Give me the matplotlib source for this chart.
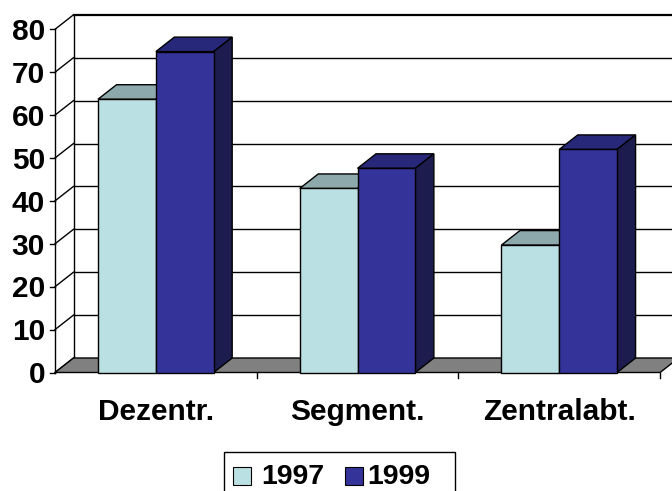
import matplotlib
matplotlib.use("Agg")
import matplotlib.pyplot as plt
from matplotlib.patches import Polygon, Rectangle

categories = ["Dezentr.", "Segment.", "Zentralabt."]
series_names = ["1997", "1999"]
values_1997 = [63.7, 42.9, 29.7]
values_1999 = [74.8, 47.6, 52.0]
yticks = [0, 10, 20, 30, 40, 50, 60, 70, 80]

front_cols = ["#BBE0E3", "#333399"]
top_cols = ["#8DA9AB", "#28287A"]
side_cols = ["#7E9799", "#1C1C4E"]

W, H = 672, 491
fig = plt.figure(figsize=(W / 100, H / 100), dpi=100)
ax = fig.add_axes([0, 0, 1, 1])

# pixel mapping for the axis frame (category units / value units)
X0PX, CATPX = 55.0, 201.7
Y0PX, VPX = 372.5, 4.29
ax.set_xlim(-X0PX / CATPX, (W - X0PX) / CATPX)
ax.set_ylim((Y0PX - H) / VPX, Y0PX / VPX)
ax.axis("off")

DX = 18.5 / CATPX
DY = 14.5 / VPX
ncat = len(categories)
ymax = yticks[-1]
xr = (W - X0PX) / CATPX + 0.1
lw = 1.0

# back wall gridlines
for v in yticks[1:]:
    ax.plot([DX, xr], [v + DY, v + DY], color="black", lw=lw if v < ymax else 1.6, zorder=1)
ax.plot([DX, DX], [DY, ymax + DY], color="black", lw=lw, zorder=1)
# left wall diagonals
for v in yticks:
    ax.plot([0, DX], [v, v + DY], color="black", lw=lw, zorder=1)
# front axis and ticks
ax.plot([0, 0], [0, ymax], color="black", lw=lw, zorder=1)
tick_len = 5.0 / CATPX
for v in yticks:
    ax.plot([-tick_len, 0], [v, v], color="black", lw=lw, zorder=1)
    ax.text(-10.0 / CATPX, v - 10.7 / VPX, str(v), ha="right", va="baseline",
            fontsize=21.5, fontweight="bold", family="Liberation Sans")

# floor
floor = Polygon([(0, 0), (ncat, 0), (ncat + DX, DY), (DX, DY)], closed=True,
                facecolor="#808080", edgecolor="black", lw=lw, zorder=2)
ax.add_patch(floor)
for i in range(1, ncat + 1):
    ax.plot([i, i], [0, -5.0 / VPX], color="black", lw=lw, zorder=2)

# bars
bw = 0.2867
def draw_bar(x0, x1, v, k, z):
    front = Polygon([(x0, 0), (x1, 0), (x1, v), (x0, v)], closed=True,
                    facecolor=front_cols[k], edgecolor="black", lw=lw, zorder=z + 0.2)
    top = Polygon([(x0, v), (x1, v), (x1 + DX, v + DY), (x0 + DX, v + DY)], closed=True,
                  facecolor=top_cols[k], edgecolor="black", lw=lw, zorder=z)
    side = Polygon([(x1, 0), (x1 + DX, DY), (x1 + DX, v + DY), (x1, v)], closed=True,
                   facecolor=side_cols[k], edgecolor="black", lw=lw, zorder=z)
    for p in (top, side, front):
        ax.add_patch(p)

for i in range(ncat):
    c = i + 0.5
    draw_bar(c - bw, c, values_1997[i], 0, 3)
    draw_bar(c, c + bw, values_1999[i], 1, 4)
    ax.text(c, -(420 - Y0PX) / VPX, categories[i], ha="center", va="baseline",
            fontsize=21.5, fontweight="bold", family="Liberation Sans")

# legend (manual, Excel style)
def fx(px):
    return px / W
def fy(py):
    return 1 - py / H
fig.patches.append(Rectangle((fx(224), fy(496)), fx(455) - fx(224), fy(452) - fy(496),
                             transform=fig.transFigure, facecolor="white",
                             edgecolor="black", lw=1.0, figure=fig))
sq = [(233, 251), (345, 363)]
tx = [261, 367]
for k in range(2):
    fig.patches.append(Rectangle((fx(sq[k][0]), fy(485)), fx(sq[k][1]) - fx(sq[k][0]),
                                 fy(467) - fy(485), transform=fig.transFigure,
                                 facecolor=front_cols[k], edgecolor="black", lw=0.8,
                                 figure=fig))
    fig.text(fx(tx[k]), fy(484), series_names[k], ha="left", va="baseline",
             fontsize=20.5, fontweight="bold", family="Liberation Sans")

fig.savefig("out.png", dpi=100)
